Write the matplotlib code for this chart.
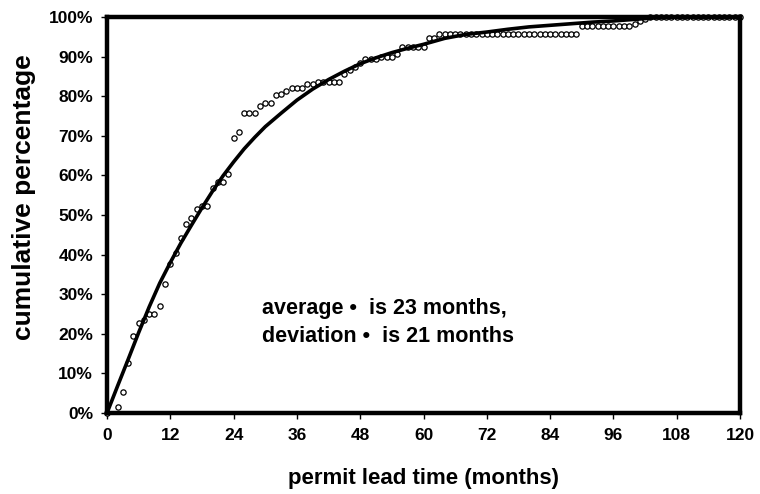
import matplotlib
matplotlib.use("Agg")
import matplotlib.pyplot as plt
from matplotlib.ticker import FuncFormatter, MultipleLocator

plt.rcParams["font.family"] = ["Liberation Sans", "DejaVu Sans"]
plt.rcParams["font.weight"] = "bold"

# observed cumulative share of permits by lead time (months)
obs_months = list(range(0, 121))
obs_months.remove(1)
obs_pct = [
    0.0, 1.6, 5.4, 12.5, 19.5, 22.6, 23.5, 25.0, 25.0, 27.1,      # 0, 2-10
    32.6, 37.6, 40.5, 44.3, 47.6, 49.3, 51.4, 52.3, 52.3, 56.9,   # 11-20
    58.4, 58.4, 60.3, 69.5, 71.0, 75.7, 75.7, 75.7, 77.4, 78.2,   # 21-30
    78.2, 80.3, 80.6, 81.4, 82.0, 82.0, 82.0, 83.0, 83.0, 83.7,   # 31-40
    83.7, 83.7, 83.7, 83.7, 85.7, 86.6, 87.4, 88.4, 89.3, 89.3,   # 41-50
    89.3, 90.0, 90.0, 90.0, 90.7, 92.3, 92.3, 92.3, 92.3, 92.3,   # 51-60
    94.6, 94.6, 95.6, 95.6, 95.6, 95.6, 95.6, 95.6, 95.6, 95.6,   # 61-70
    95.6, 95.6, 95.6, 95.6, 95.6, 95.6, 95.6, 95.6, 95.6, 95.6,   # 71-80
    95.6, 95.6, 95.6, 95.6, 95.6, 95.6, 95.6, 95.6, 95.6, 97.6,   # 81-90
    97.6, 97.6, 97.6, 97.6, 97.6, 97.6, 97.6, 97.6, 97.6, 98.2,   # 91-100
    99.0, 99.4, 100.0, 100.0, 100.0, 100.0, 100.0, 100.0, 100.0, 100.0,  # 101-110
    100.0, 100.0, 100.0, 100.0, 100.0, 100.0, 100.0, 100.0, 100.0, 100.0,  # 111-120
]

# fitted distribution curve
fit_months = [0, 2, 4, 6, 8, 10, 12, 14, 16, 18, 20, 22, 24, 26, 28, 30, 33, 36,
              39, 42, 45, 48, 51, 54, 57, 60, 64, 68, 72, 76, 80, 84, 88, 92,
              96, 100, 104, 108, 120]
fit_pct = [0.0, 6.8, 13.5, 20.3, 26.8, 32.8, 38.0, 42.9, 47.4, 51.8, 56.0, 59.9,
           63.4, 66.7, 69.6, 72.3, 75.7, 79.0, 81.8, 84.2, 86.3, 88.2, 89.7, 91.0,
           92.1, 93.1, 94.6, 95.6, 96.2, 96.9, 97.5, 97.9, 98.3, 98.7, 99.0, 99.4,
           99.8, 100.0, 100.0]

x_ticks = list(range(0, 121, 12))
note_lines = ["average \u2022  is 23 months,", "deviation \u2022  is 21 months"]

fig = plt.figure(figsize=(7.6, 4.94), dpi=100)
ax = fig.add_axes([0.1408, 0.164, 0.8329, 0.8016])

ax.plot(obs_months, obs_pct, linestyle="none", marker="o", markersize=3.8,
        markerfacecolor="white", markeredgecolor="black", markeredgewidth=0.9,
        clip_on=False, zorder=2)
ax.plot(fit_months, fit_pct, color="black", linewidth=2.6,
        solid_capstyle="round", clip_on=False, zorder=3)

ax.set_xlim(0, 120)
ax.set_ylim(0, 100)
ax.set_xticks(x_ticks)
ax.yaxis.set_major_locator(MultipleLocator(10))
ax.yaxis.set_major_formatter(FuncFormatter(lambda v, p: f"{v:.0f}%"))

for s in ax.spines.values():
    s.set_linewidth(3.2)
ax.tick_params(axis="both", direction="out", length=4, width=1,
               labelsize=12.5)
ax.tick_params(axis="y", pad=6)
ax.tick_params(axis="x", pad=7)
for lbl in ax.get_xticklabels() + ax.get_yticklabels():
    lbl.set_fontweight("bold")

ax.set_xlabel("permit lead time (months)", fontsize=16, fontweight="bold",
              labelpad=18)
ax.set_ylabel("cumulative percentage", fontsize=19, fontweight="bold")
ax.yaxis.set_label_coords(-0.112, 0.545)

ax.text(29.4, 26.3, note_lines[0], fontsize=15.5, fontweight="bold",
        va="center", ha="left")
ax.text(29.4, 19.2, note_lines[1], fontsize=15.5, fontweight="bold",
        va="center", ha="left")

fig.savefig("out.png", dpi=100)
